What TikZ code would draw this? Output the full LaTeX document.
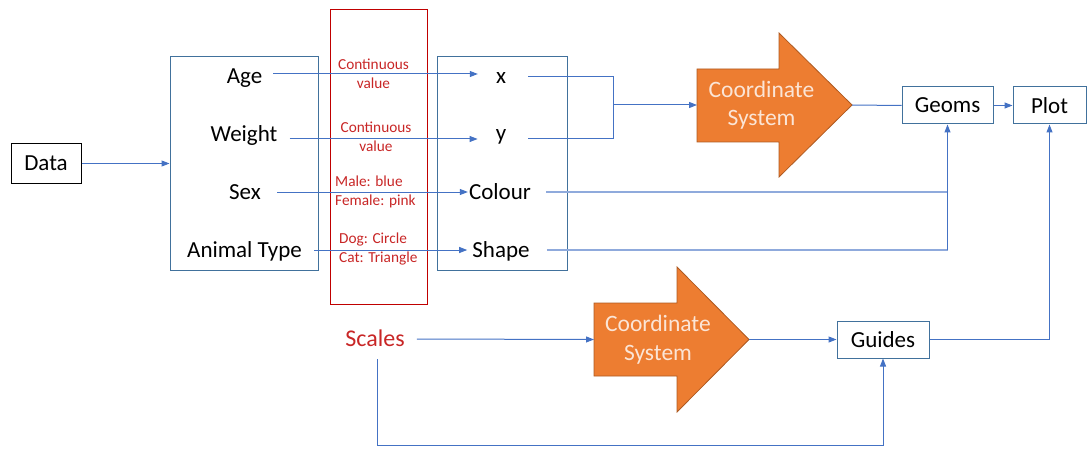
\documentclass[tikz,border=0pt]{standalone}
\usepackage{fontspec}
\setmainfont{Carlito}
\usetikzlibrary{arrows.meta,calc}
\definecolor{lnblue}{HTML}{4472C4}
\definecolor{lnlight}{HTML}{8FAADC}
\definecolor{bxblue}{HTML}{41719C}
\definecolor{redtxt}{RGB}{200,38,38}
\definecolor{redbox}{RGB}{192,0,0}
\definecolor{orfill}{HTML}{ED7D31}
\definecolor{ordraw}{HTML}{AE5A21}
\definecolor{ortxt}{HTML}{FBE5D6}
\tikzset{
  txt/.style={font=\fontsize{23}{28}\selectfont, inner sep=0pt, anchor=base},
  rlab/.style={font=\fontsize{15.3}{19}\selectfont, text=redtxt, inner sep=0pt},
  bx/.style={draw=bxblue, line width=1pt, inner sep=0pt, font=\fontsize{23}{28}\selectfont},
  conn/.style={draw=lnblue, line width=1pt},
  arr/.style={conn, -{Triangle[length=8pt,width=6pt]}},
  lconn/.style={draw=lnlight, line width=1.2pt},
  orarrow/.style={fill=orfill, draw=ordraw, line width=0.8pt},
  ortext/.style={font=\fontsize{23.5}{28.5}\selectfont, text=ortxt, align=center, inner sep=0pt}
}
\begin{document}
\begin{tikzpicture}[x=1pt,y=-1pt]
\useasboundingbox (0,0) rectangle (1091,457);
% big boxes
\node[bx, minimum width=148pt, minimum height=213pt] (leftbox) at (244,163.5) {};
\node[draw=redbox, line width=1pt, minimum width=97pt, minimum height=294pt, inner sep=0pt] (redbx) at (378.5,157) {};
\node[bx, minimum width=130pt, minimum height=213pt] (rightbox) at (502,163.5) {};
% small boxes
\node[draw=black, line width=1pt, inner sep=0pt, minimum width=70pt, minimum height=39pt, font=\fontsize{23}{28}\selectfont] (data) at (46,163.5) {Data};
\node[bx, minimum width=91pt, minimum height=37pt] (geoms) at (947.5,105.5) {Geoms};
\node[bx, minimum width=73pt, minimum height=37pt] (plot) at (1049.5,105.5) {Plot};
\node[bx, minimum width=92pt, minimum height=37pt] (guides) at (883,339.5) {Guides};
% left texts
\node[txt] (age) at (244.5,84) {Age};
\node[txt] (weight) at (244,142) {Weight};
\node[txt] (sex) at (245,200) {Sex};
\node[txt] (animal) at (244.5,257) {Animal Type};
% right texts
\node[txt] (x) at (501,84) {x};
\node[txt] (y) at (501,141) {y};
\node[txt] (colour) at (500,200) {Colour};
\node[txt] (shape) at (501,257) {Shape};
% red labels
\node[rlab, align=center] (c1) at (373.5,73.5) {Continuous\\value};
\node[rlab, align=center] (c2) at (376,137) {Continuous\\value};
\node[rlab, align=left, anchor=west] (sexlab) at (335,191.5) {Male: blue\\Female: pink};
\node[rlab, align=left, anchor=west] (animlab) at (339,249.5) {Dog: Circle\\Cat: Triangle};
% scales
\node[txt, text=redtxt, font=\fontsize{24}{28}\selectfont] (scales) at (375,346) {Scales};
% orange arrows
\path[orarrow] (697,69) -- (779,69) -- (779,33) -- (852,105) -- (779,177) -- (779,142) -- (697,142) -- cycle;
\node[ortext] (cs1) at (761.5,105) {Coordinate\\System};
\coordinate (cs1in) at (697,105);
\coordinate (cs1tip) at (852,105);
\path[orarrow] (594,303) -- (677,303) -- (677,267) -- (749,339.5) -- (677,412) -- (677,376) -- (594,376) -- cycle;
\node[ortext] (cs2) at (658,339.5) {Coordinate\\System};
\coordinate (cs2in) at (594,339.5);
\coordinate (cs2tip) at (749,339.5);
\coordinate (merge) at (613,105);
\coordinate (colout) at ($(colour.base east)+(15,-8)$);
\coordinate (shapeout) at ($(shape.base east)+(17,-7)$);
% connectors
\draw[arr] (data.east) -- (leftbox.west);
\draw[arr] ($(age.base east)+(11,-10)$) -- ($(x.base west)+(-18,-10)$);
\draw[arr] ($(weight.base east)+(12,-3)$) -- ($(y.base west)+(-18,-2)$);
\draw[arr] ($(sex.base east)+(16,-8)$) -- ($(colour.base west)+(-1,-8)$);
\draw[arr] ($(animal.base east)+(12,-7)$) -- ($(shape.base west)+(-5,-7)$);
\draw[conn] ($(x.base east)+(22,-7)$) -| (merge);
\draw[conn] ($(y.base east)+(22,-2)$) -| (merge);
\draw[arr] (merge) -- (cs1in);
\draw[conn] (cs1tip) -- (geoms.west);
\draw[arr] (geoms.east) -- (plot.west);
\draw[lconn] (colout) -- (colout -| geoms.south);
\draw[lconn] (shapeout) -- (shapeout -| geoms.south);
\draw[arr] (shapeout -| geoms.south) -- (geoms.south);
\draw[arr] ($(scales.base east)+(12,-7)$) -- (cs2in);
\draw[arr] (cs2tip) -- (guides.west);
\draw[arr] (guides.east) -| (plot.south);
\draw[arr] ($(scales.base)+(2,13)$) -- ++(0,86) -| (guides.south);
\end{tikzpicture}
\end{document}
